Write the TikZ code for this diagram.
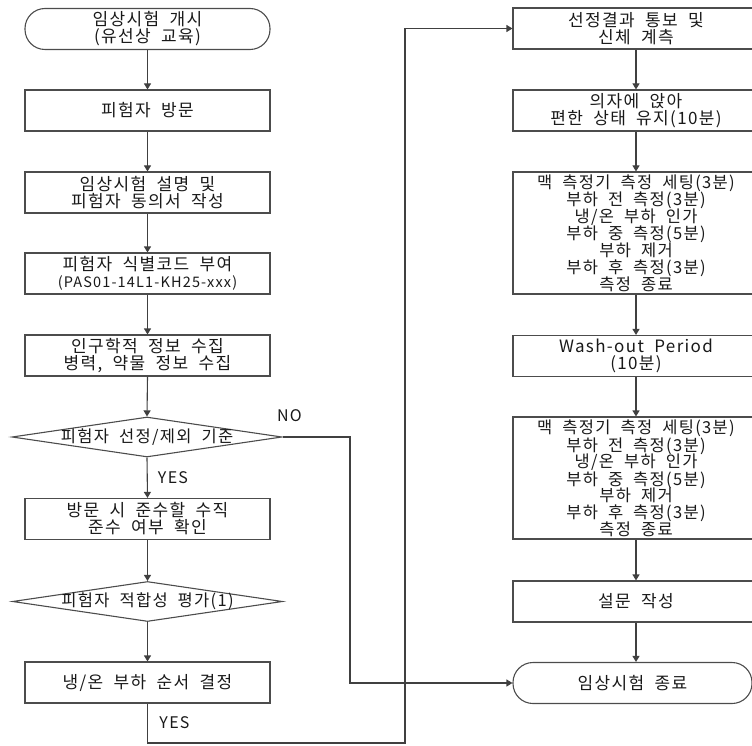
\documentclass[tikz,border=0pt]{standalone}
\usepackage{fontspec}
\setmainfont{Noto Sans CJK KR}[LetterSpace=8,WordSpace=2]
\usetikzlibrary{arrows.meta,shapes.geometric}
\begin{document}
\begin{tikzpicture}[x=1pt,y=-1pt,
  ln/.style={draw=black!75, line width=1.1pt},
  arr/.style={ln, -{Triangle[width=7pt,length=6pt]}},
  txt/.style={text=black!90, align=center, font=\fontsize{17}{17}\selectfont},
  bigtxt/.style={txt, inner sep=0pt, font=\fontsize{16.5}{17}\selectfont},
  diatxt/.style={txt, inner sep=0pt, font=\fontsize{16.5}{17}\selectfont},
  lbox/.style={txt, draw=black!70, line width=1.1pt, rectangle, inner sep=0pt, minimum width=245pt, minimum height=41pt},
  rbox/.style={txt, draw=black!70, line width=1.1pt, rectangle, inner sep=0pt, minimum width=246pt, minimum height=41pt},
  term/.style={lbox, rounded corners=20pt},
  dia/.style={draw=black!70, line width=1.1pt, diamond, inner sep=0pt, minimum width=270pt, minimum height=40pt},
  yn/.style={text=black!90, font=\fontsize{16}{16}\selectfont, inner sep=0pt}]
\clip (0,0) rectangle (752,746);
\useasboundingbox (0,0) rectangle (752,746);
% left column
\node[term] (s) at (147.5,29) {임상시험 개시\\(유선상 교육)};
\node[lbox] (b1) at (147.5,110.5) {피험자 방문};
\node[lbox] (b2) at (147.5,192.5) {임상시험 설명 및\\피험자 동의서 작성};
\node[lbox] (b3) at (147.5,273.5) {피험자 식별코드 부여\\{\fontsize{14.5}{17}\selectfont (PAS01-14L1-KH25-xxx)}};
\node[lbox] (b4) at (147.5,355.5) {인구학적 정보 수집\\병력, 약물 정보 수집};
\node[dia] (d1) at (147,437) {};
\node[diatxt] (d1t) at (d1) {피험자 선정/제외 기준};
\node[lbox] (b5) at (147.5,519) {방문 시 준수할 수직\\준수 여부 확인};
\node[dia] (d2) at (147.5,601.5) {};
\node[diatxt] (d2t) at (d2) {피험자 적합성 평가(1)};
\node[lbox] (b6) at (147.5,682.5) {냉/온 부하 순서 결정};
% right column
\node[rbox] (r1) at (636,28.5) {선정결과 통보 및\\신체 계측};
\node[rbox] (r2) at (636,110.5) {의자에 앉아\\편한 상태 유지(10분)};
\node[rbox, minimum height=122pt] (r3) at (636,233) {};
\node[bigtxt] (r3t) at ([yshift=-0.8pt]r3.center) {맥 측정기 측정 세팅(3분)\\부하 전 측정(3분)\\냉/온 부하 인가\\부하 중 측정(5분)\\부하 제거\\부하 후 측정(3분)\\측정 종료};
\node[rbox] (r4) at (636,356) {Wash-out Period\\(10분)};
\node[rbox, minimum height=122pt] (r5) at (636,478) {};
\node[bigtxt] (r5t) at ([yshift=-0.8pt]r5.center) {맥 측정기 측정 세팅(3분)\\부하 전 측정(3분)\\냉/온 부하 인가\\부하 중 측정(5분)\\부하 제거\\부하 후 측정(3분)\\측정 종료};
\node[rbox] (r6) at (636,601.5) {설문 작성};
\node[term, minimum width=239pt] (r7) at (632.5,683) {임상시험 종료};
% connectors left
\draw[arr] (s) -- (b1);
\draw[arr] (b1) -- (b2);
\draw[arr] (b2) -- (b3);
\draw[arr] (b3) -- (b4);
\draw[arr] (b4.south) -- (d1.north);
\draw[arr] (d1.south) -- (b5.north);
\draw[arr] (b5.south) -- (d2.north);
\draw[arr] (d2.south) -- (b6.north);
% right
\draw[arr] (r1) -- (r2);
\draw[arr] (r2) -- (r3);
\draw[arr] (r3) -- (r4);
\draw[arr] (r4) -- (r5);
\draw[arr] (r5) -- (r6);
\draw[arr] (r6.south) -- (r6.south |- r7.north);
% loops
\coordinate (lp) at (405,743);
\draw[arr] (b6.south) |- (lp) |- (r1.west);
\coordinate (np) at (350,437);
\draw[arr] (d1.east) -- (np) |- (r7.west);
% labels
\node[yn] (no) at (289.5,416) {NO};
\node[yn] (yes1) at (173,478) {YES};
\node[yn] (yes2) at (174.5,723) {YES};
\end{tikzpicture}
\end{document}
